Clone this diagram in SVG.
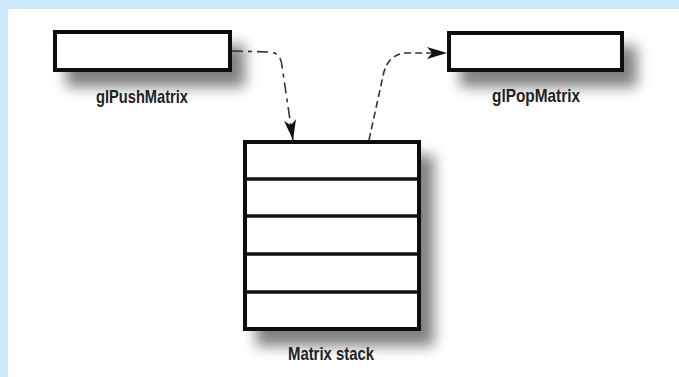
<svg xmlns="http://www.w3.org/2000/svg" width="679" height="377" viewBox="0 0 679 377">
  <defs>
    <filter id="shadow" x="-30%" y="-60%" width="170%" height="250%">
      <feGaussianBlur in="SourceAlpha" stdDeviation="7"/>
      <feOffset dx="13" dy="15" result="blur"/>
      <feComponentTransfer><feFuncA type="linear" slope="0.5"/></feComponentTransfer>
      <feMerge><feMergeNode/><feMergeNode in="SourceGraphic"/></feMerge>
    </filter>
    <marker id="arrowL" viewBox="0 0 20 12" refX="20" refY="6" markerWidth="20" markerHeight="12" markerUnits="userSpaceOnUse" orient="auto">
      <path d="M0,0 L20,6 L0,12 L5,6 Z" fill="#111"/>
    </marker>
  </defs>
  <style>
    .box { fill: #fff; stroke: #111; stroke-width: 4; }
    .row { stroke: #111; stroke-width: 3.5; }
    .label { font-family: "Liberation Sans", "DejaVu Sans", sans-serif; font-weight: bold; font-size: 19px; fill: #222; text-anchor: middle; }
    .conn { fill: none; stroke: #333; stroke-width: 1.6; }
  </style>

  <!-- page background and white panel -->
  <rect x="0" y="0" width="679" height="377" fill="#cde9fb"/>
  <rect x="8" y="9" width="671" height="368" fill="#fff"/>

  <g id="push">
    <rect class="box" x="55" y="32" width="175" height="38" filter="url(#shadow)"/>
    <text class="label" x="142" y="103" textLength="92" lengthAdjust="spacingAndGlyphs">glPushMatrix</text>
  </g>

  <g id="pop">
    <rect class="box" x="449" y="33" width="173" height="37" filter="url(#shadow)"/>
    <text class="label" x="536" y="102" textLength="88" lengthAdjust="spacingAndGlyphs">glPopMatrix</text>
  </g>

  <g id="stack">
    <rect class="box" x="245" y="142" width="174" height="187" filter="url(#shadow)"/>
    <line class="row" x1="245" y1="179" x2="419" y2="179"/>
    <line class="row" x1="245" y1="216" x2="419" y2="216"/>
    <line class="row" x1="245" y1="254" x2="419" y2="254"/>
    <line class="row" x1="245" y1="292" x2="419" y2="292"/>
    <text class="label" x="331" y="360" textLength="86" lengthAdjust="spacingAndGlyphs">Matrix stack</text>
  </g>

  <g id="connectors">
    <path class="conn" d="M232,51 L270,52 Q281,53 282,66 L293,140" stroke-dasharray="11,5,4,5" marker-end="url(#arrowL)"/>
    <path class="conn" d="M369,140 L383,76 Q387,55 405,53 L447,53" stroke-dasharray="7,4" marker-end="url(#arrowL)"/>
  </g>
</svg>
